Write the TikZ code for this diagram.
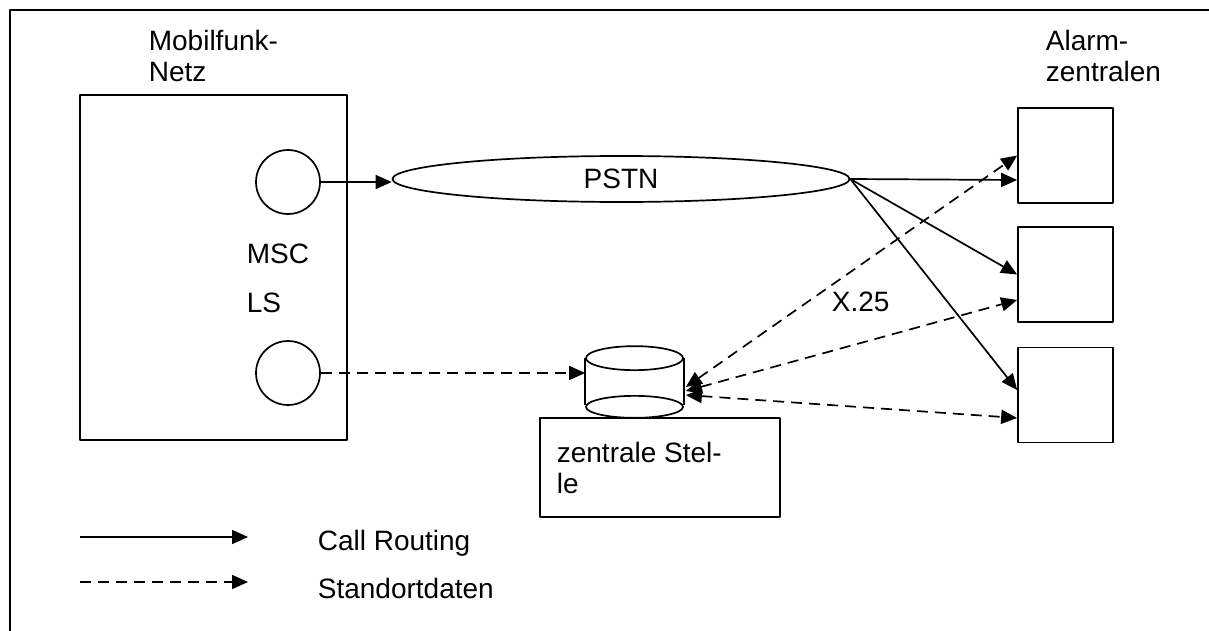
\documentclass[tikz,border=0pt]{standalone}
\usepackage{fontspec}
\setmainfont{Liberation Sans}
\usetikzlibrary{arrows.meta,calc,shapes.geometric}
\tikzset{
  every picture/.style={line join=round, line width=0.85pt, >={Triangle[length=8pt,width=7pt]}},
  every node/.style={font=\fontsize{14}{15.5}\selectfont},
  txt/.style={inner sep=0pt, align=left, anchor=west},
  netzbox/.style={draw, minimum width=133.5pt, minimum height=172.5pt},
  knoten/.style={draw, circle, minimum size=32pt, inner sep=0pt},
  zentrale/.style={draw, minimum width=47.5pt, minimum height=47.5pt},
  stelle/.style={draw, minimum width=120pt, minimum height=49.5pt},
  pstn/.style={draw, ellipse, minimum width=228.5pt, minimum height=23pt, inner sep=0pt},
  daten/.style={dashed, dash pattern=on 5.5pt off 3.5pt},
}

\begin{document}
\begin{tikzpicture}[x=0.5pt,y=-0.5pt]
\useasboundingbox (0,0) rectangle (1209,631);
\draw[line width=1.3pt] (10,645) -- (10,10) -- (1220,10);

\node[txt] (mobil) at (148,56) {Mobilfunk-\\Netz};
\node[txt] (alarm) at (1045,56) {Alarm-\\zentralen};

\node[netzbox] (netz) at (213.5,267.5) {};
\node[knoten] (msc) at (288,182) {};
\node[knoten] (ls) at (288,373) {};
\node[txt] (msctxt) at (246,254) {MSC};
\node[txt] (lstxt) at (246,303) {LS};

\node[pstn] (psnet) at (621,179) {PSTN};

\node[zentrale] (az1) at (1065.5,155.5) {};
\node[zentrale] (az2) at (1065.5,274.5) {};
\node[zentrale] (az3) at (1065.5,395) {};

% Datenbank
\node[minimum width=48.5pt, minimum height=35pt, inner sep=0pt] (db) at (634.5,382) {};
\draw (db.north west) ++(0,12) -- ++(0,47) (db.north east) ++(0,12) -- ++(0,47);
\draw ($(db.north)+(0,12)$) ellipse [x radius=24.25pt, y radius=6pt];
\draw ($(db.south)+(0,-11)$) ellipse [x radius=24.25pt, y radius=5.5pt];
\node[stelle] (zs) at (660,467.5) {};
\node[txt] (zstxt) at (556,467.5) {zentrale Stel-\\le};

% Call Routing
\draw[->] (msc.east) -- (msc.east -| psnet.west);
\draw[->] (psnet.east) -- ($(az1.west)+(0,24.5)$);
\draw[->] (psnet.east) -- (az2.west);
\draw[->] (psnet.east) -- ($(az3.west)+(0,-5)$);

% Standortdaten
\draw[->,daten] (ls.east) -- (ls.east -| db.west);
\draw[<->,daten] ($(db.east)+(2,5)$) -- (az1.west);
\draw[<->,daten] ($(db.east)+(2,9)$) -- ($(az2.west)+(0,25.5)$);
\draw[<->,daten] ($(db.east)+(2,13)$) -- ($(az3.west)+(0,23)$);
\node[txt] (x25) at (831,302) {X.25};

% Legende
\coordinate (cra) at (80,537);
\coordinate (crb) at (248,537);
\coordinate (sda) at (80,582);
\coordinate (sdb) at (248,582);
\draw[->] (cra) -- (crb);
\draw[->,daten] (sda) -- (sdb);
\node[txt] (crtxt) at (317,543) {Call Routing};
\node[txt] (sdtxt) at (317,588) {Standortdaten};
\end{tikzpicture}
\end{document}
